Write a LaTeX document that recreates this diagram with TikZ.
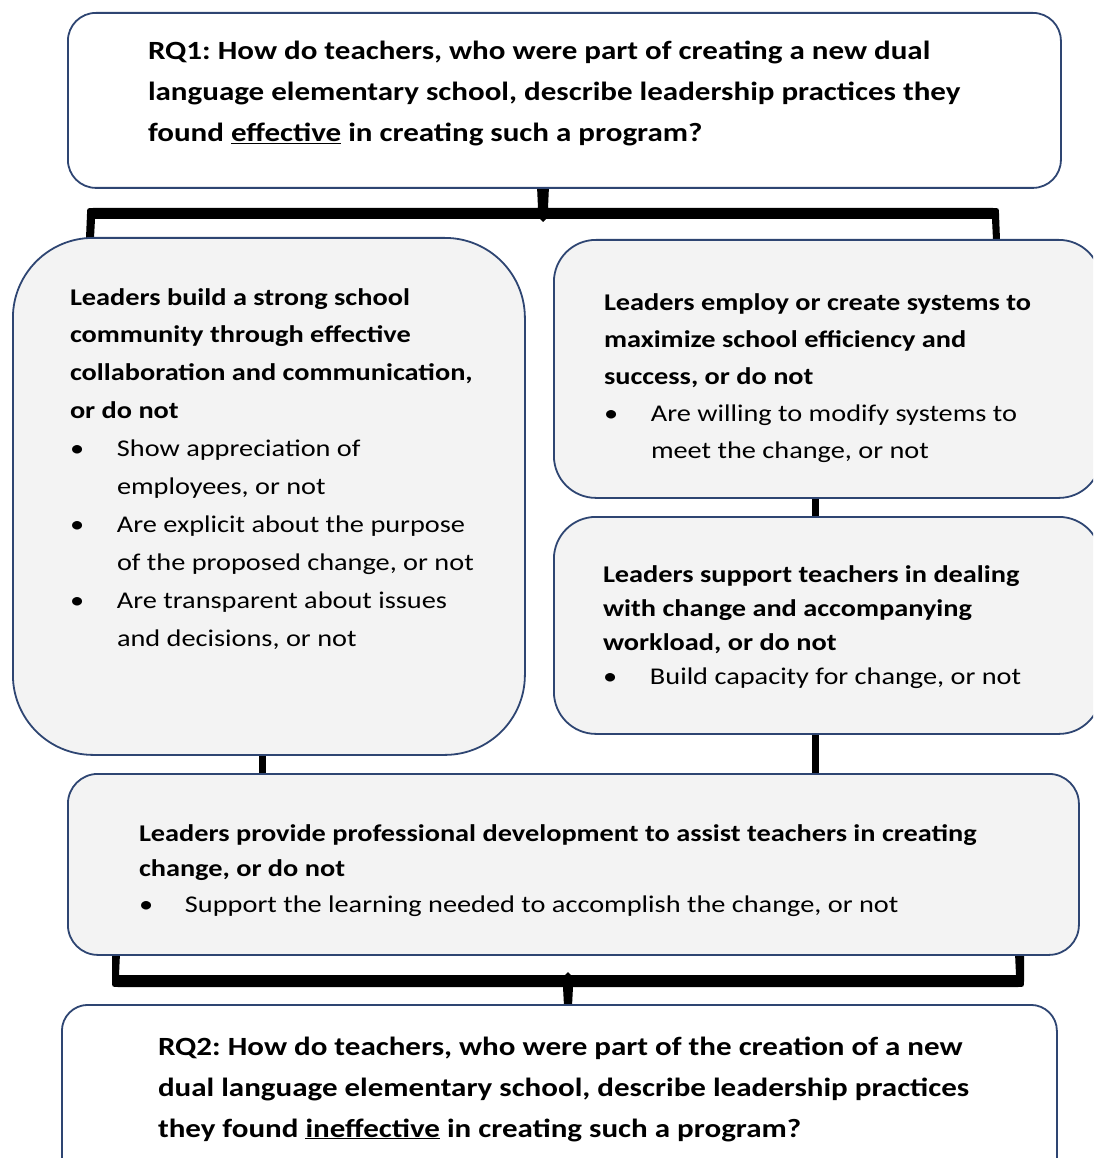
\documentclass[tikz,border=0pt]{standalone}
\usepackage{fontspec}
\setmainfont{Carlito}[FakeStretch=1.18]
\usetikzlibrary{calc}
\frenchspacing

\definecolor{boxline}{HTML}{2E4572}
\definecolor{boxfill}{HTML}{F3F3F3}

% bullet item with hanging indent
\newcommand{\bitem}[2][47pt]{\par\hangindent=#1\hangafter=1\noindent
  \makebox[#1][l]{\mdseries\textbullet}{\mdseries #2}}

\tikzset{
  rbox/.style={draw=boxline, line width=1.8pt, anchor=north west, inner sep=0pt},
  greybox/.style={rbox, fill=boxfill},
  whitebox/.style={rbox, fill=white},
  txt/.style={anchor=base west, inner sep=0pt, outer sep=0pt},
  link/.style={line width=7pt, black},
}

\newcommand{\bigfont}{\fontsize{26.3}{41}\selectfont\bfseries}

\begin{document}
\begin{tikzpicture}[x=1pt, y=-1pt]
\useasboundingbox (0,0) rectangle (1093,1158);
\clip (0,0) rectangle (1093,1158);

% upper bracket joining the first question to the two columns
\fill[black] (86,238) -- (87,214) .. controls (87,208) .. (93,208) -- (538,208)
  -- (537,186) -- (549,186) -- (548,208) -- (993,208)
  .. controls (999,208) .. (999,214) -- (1000,240) -- (993,240) -- (992,219)
  -- (546,219) -- (543,222) -- (540,219) -- (95,219) -- (94,238) -- cycle;

% lower bracket joining the professional development box to the second question
\fill[black] (112,953) -- (120,953) -- (119,975) -- (565,975) -- (568,972)
  -- (571,975) -- (1016,975) -- (1015,953) -- (1024,953) -- (1024,981)
  .. controls (1024,987) .. (1018,987) -- (573,987) -- (572,1006) -- (564,1006)
  -- (563,987) -- (118,987) .. controls (112,987) .. (112,981) -- cycle;

% boxes
\node[whitebox, rounded corners=28pt, minimum width=993pt, minimum height=175pt]
  (rq1) at (67,12) {};
\node[greybox, rounded corners=80pt, minimum width=512pt, minimum height=517pt]
  (community) at (12,237) {};
\node[greybox, rounded corners=42pt, minimum width=547pt, minimum height=258pt]
  (systems) at (553,239) {};
\node[greybox, rounded corners=42pt, minimum width=547pt, minimum height=217pt]
  (support) at (553,516) {};
\node[greybox, rounded corners=30pt, minimum width=1011pt, minimum height=181pt]
  (pd) at (67,773) {};
\node[whitebox, rounded corners=26pt, minimum width=995pt, minimum height=200pt]
  (rq2) at (61,1004) {};

% short links between boxes
\draw[link] ([xshift=-6pt]community.south) -- ([xshift=-6pt]community.south |- pd.north);
\draw[link] ([xshift=-12pt]systems.south) -- ([xshift=-12pt]support.north);
\draw[link] ([xshift=-12pt]support.south) -- ([xshift=-12pt]support.south |- pd.north);

% texts
\node[txt] (rq1text) at (148,60) {\parbox[t]{950pt}{\bigfont
  RQ1: How do teachers, who were part of creating a new dual\\
  language elementary school, describe leadership practices they\\
  found \underline{effective} in creating such a program?}};

\node[txt] (communitytext) at (70,305) {\parbox[t]{480pt}{\fontsize{24}{37.9}\selectfont\bfseries
  Leaders build a strong school\\
  community through effective\\
  collaboration and communication,\\
  or do not
  \bitem{Show appreciation of\\ employees, or not}
  \bitem{Are explicit about the purpose\\ of the proposed change, or not}
  \bitem{Are transparent about issues\\ and decisions, or not}}};

\node[txt] (systemstext) at (604,310) {\parbox[t]{520pt}{\fontsize{24}{37}\selectfont\bfseries
  Leaders employ or create systems to\\
  maximize school efficiency and\\
  success, or do not
  \bitem{Are willing to modify systems to\\ meet the change, or not}}};

% the last line of this box is cut off at the bottom of its text area
\begin{scope}
\clip (553,516) rectangle (1100,688);
\node[txt] (supporttext) at (603,582) {\parbox[t]{520pt}{\fontsize{24}{34.3}\selectfont\bfseries
  Leaders support teachers in dealing\\
  with change and accompanying\\
  workload, or do not
  \bitem{Build capacity for change, or not}}};
\end{scope}

\node[txt] (pdtext) at (139,841) {\parbox[t]{1000pt}{\fontsize{24}{35.5}\selectfont\bfseries
  Leaders provide professional development to assist teachers in creating\\
  change, or do not
  \bitem[46pt]{Support the learning needed to accomplish the change, or not}}};

\node[txt] (rq2text) at (158,1055) {\parbox[t]{950pt}{\bigfont
  RQ2: How do teachers, who were part of the creation of a new\\
  dual language elementary school, describe leadership practices\\
  they found \underline{ineffective} in creating such a program?}};

\end{tikzpicture}
\end{document}
